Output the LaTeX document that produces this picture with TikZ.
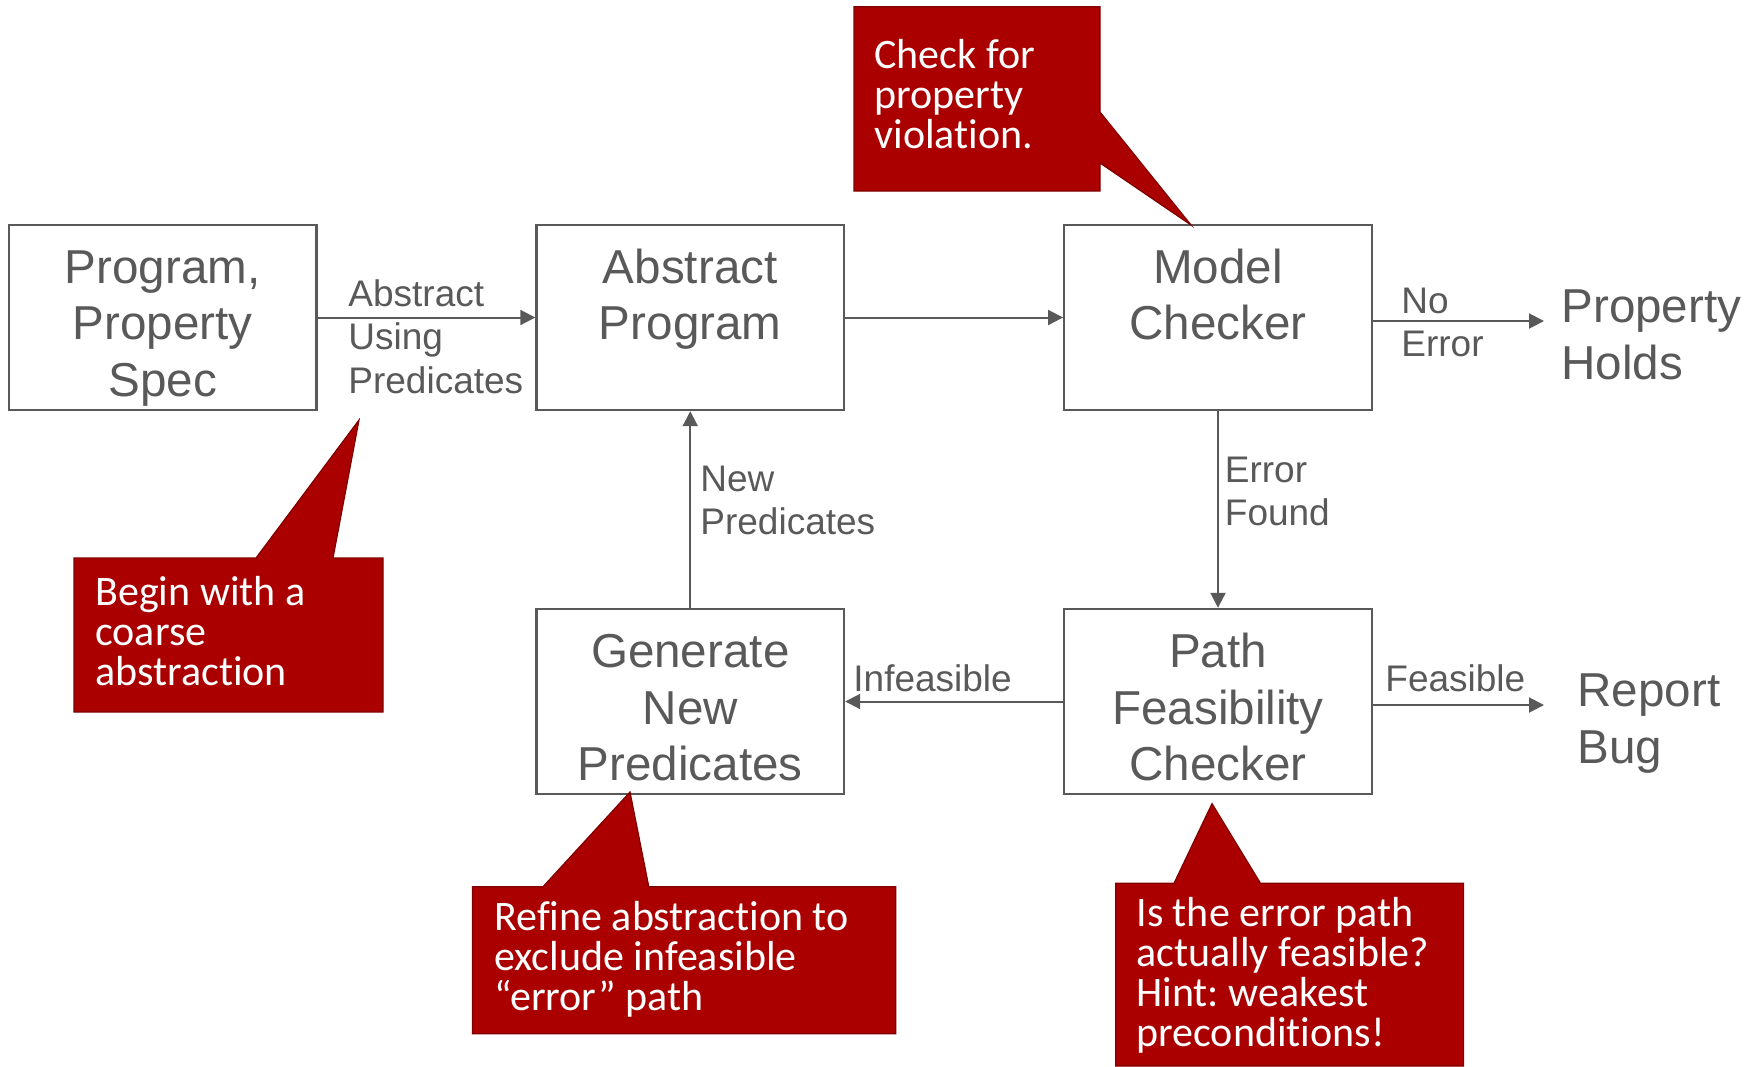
\documentclass[tikz,border=0pt]{standalone}
\usepackage{fontspec}
\setmainfont{Liberation Sans}
\newfontfamily\calloutfont[Ligatures=NoCommon]{Carlito}
\usetikzlibrary{arrows.meta}
\definecolor{ink}{HTML}{595959}
\definecolor{calloutred}{HTML}{AA0000}
\definecolor{calloutedge}{HTML}{800000}
\frenchspacing
\begin{document}
% multi-line texts are placed by the baseline of their last line
\begin{tikzpicture}[x=0.5pt,y=-0.5pt,
  stage/.style={draw=ink, line width=1.2pt, minimum width=153.75pt, minimum height=92.5pt, inner sep=0pt},
  stagetext/.style={text=ink, font=\fontsize{23.8pt}{28.25pt}\selectfont, align=center, anchor=base, inner sep=0pt},
  flow/.style={draw=ink, line width=1pt, -{Triangle[length=7.5pt,width=7.5pt]}},
  edgetext/.style={text=ink, font=\fontsize{18.5pt}{21.75pt}\selectfont, align=left, anchor=base west, inner sep=0pt},
  outcome/.style={text=ink, font=\fontsize{23.8pt}{28.5pt}\selectfont, align=left, anchor=base west, inner sep=0pt},
  callout/.style={fill=calloutred, draw=calloutedge, line width=0.6pt, line join=miter},
  callouttext/.style={text=white, font=\calloutfont\fontsize{21pt}{20pt}\selectfont, align=left, anchor=base west, inner sep=0pt},
]
\useasboundingbox (0,0) rectangle (1760,1066);

% process stages
\node[stage] (spec) at (162.75,317.5) {};
\node[stage] (abs)  at (690.25,317.5) {};
\node[stage] (mc)   at (1218,317.5) {};
\node[stage] (gen)  at (690.25,701.5) {};
\node[stage] (pfc)  at (1218,701.5) {};

\node[stagetext] (spect) at (162.75,396)   {Program,\\Property\\Spec};
\node[stagetext] (abst)  at (690.25,339.5) {Abstract\\Program};
\node[stagetext] (mct)   at (1218,339.5)   {Model\\Checker};
\node[stagetext] (gent)  at (690.25,780.5) {Generate\\New\\Predicates};
\node[stagetext] (pfct)  at (1218,780.5)   {Path\\Feasibility\\Checker};

% outcomes
\coordinate (holdsin) at (1544,321);
\coordinate (bugin) at (1544,705);
\node[outcome] (holds) at (1561,379) {Property\\Holds};
\node[outcome] (bug)   at (1577,763) {Report\\Bug};

% connectors
\draw[flow] (spec) -- (abs);
\draw[flow] (abs) -- (mc);
\draw[flow] (mc.east |- holdsin) -- (holdsin);
\draw[flow] (mc) -- (pfc);
\draw[flow] (pfc) -- (gen);
\draw[flow] (gen) -- (abs);
\draw[flow] (pfc.east |- bugin) -- (bugin);

% connector labels
\node[edgetext] (lblabs)   at (348,393)    {Abstract\\Using\\Predicates};
\node[edgetext] (lblnoerr) at (1401,356.5) {No\\Error};
\node[edgetext] (lblerr)   at (1224.5,525.5) {Error\\Found};
\node[edgetext] (lblinf)   at (853,691)    {Infeasible};
\node[edgetext] (lblnew)   at (700,534.5)  {New\\Predicates};
\node[edgetext] (lblfeas)  at (1385,691)   {Feasible};

% callouts
\draw[callout] (854,6.7) -- (1100,6.7) -- (1100,112) -- (1191,225) -- (1100,163)
  -- (1100,191) -- (854,191) -- cycle;
\draw[callout] (74,558) -- (256,558) -- (359,420) -- (333,558) -- (383,558)
  -- (383,712) -- (74,712) -- cycle;
\draw[callout] (472.5,886.7) -- (543,886.7) -- (630,792) -- (648.8,886.7)
  -- (895.7,886.7) -- (895.7,1033.7) -- (472.5,1033.7) -- cycle;
\draw[callout] (1115.7,883.3) -- (1174,883.3) -- (1212,803.6) -- (1260.5,883.3)
  -- (1463.6,883.3) -- (1463.6,1066) -- (1115.7,1066) -- cycle;

\node[callouttext] (notea) at (874,148)    {Check for\\property\\violation.};
\node[callouttext] (noteb) at (95,685)     {Begin with a\\coarse\\abstraction};
\node[callouttext] (notec) at (494,1010.5) {Refine abstraction to\\exclude infeasible\\“error” path};
\node[callouttext] (noted) at (1136,1046)  {Is the error path\\actually feasible?\\Hint: weakest\\preconditions!};
\end{tikzpicture}
\end{document}
